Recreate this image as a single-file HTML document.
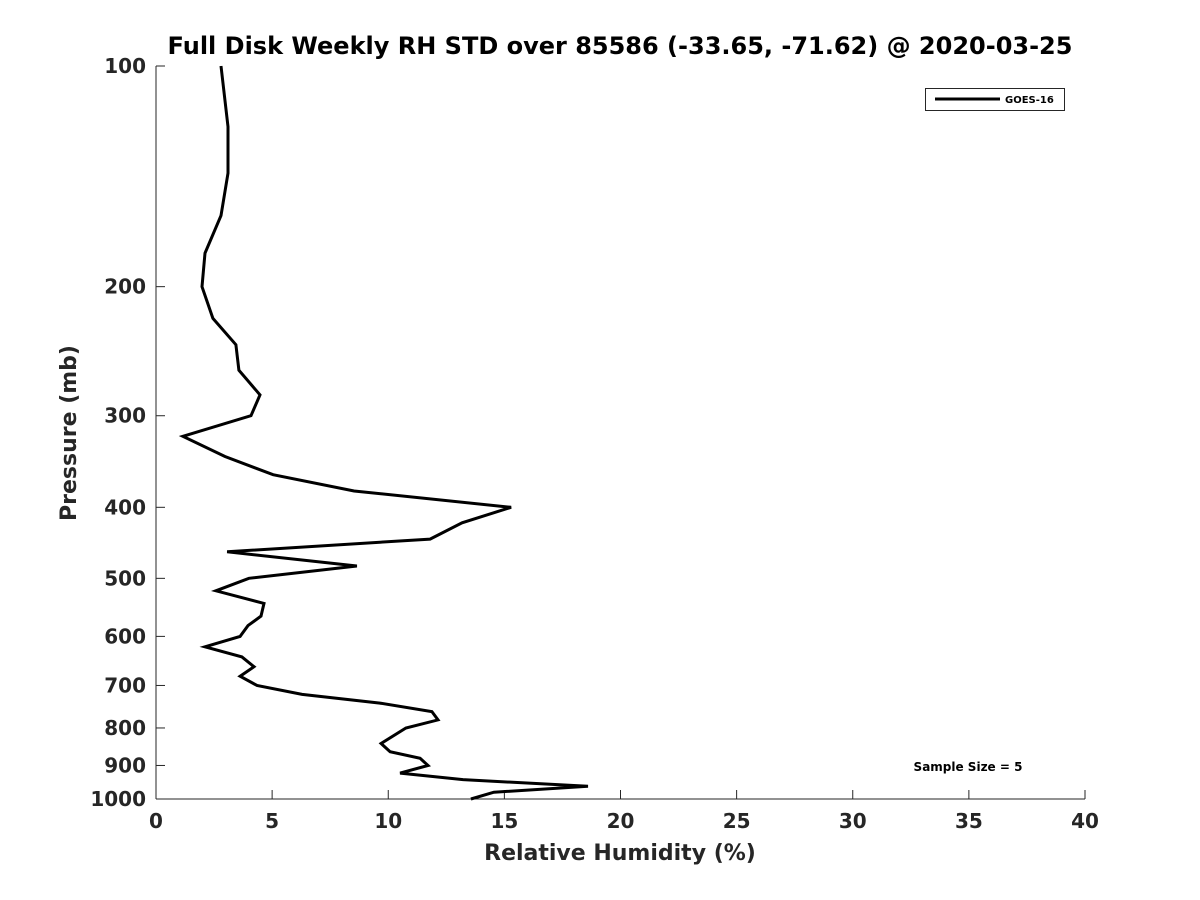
<!DOCTYPE html>
<html><head><meta charset="utf-8"><style>body{margin:0;background:#fff}svg{display:block;font-family:"DejaVu Sans","Liberation Sans",sans-serif}</style></head>
<body>
<svg width="1200" height="900" xmlns="http://www.w3.org/2000/svg">
<g id="root"></g>
</svg>
<script>
const pressures=[100,121,140,160,180,200,221,240,260,281,300,320,341,361,380,400,420,442,460,481,500,520,541,563,580,600,620,640,660,680,700,720,740,760,780,800,840,862,880,900,922,941,961,979,1000];
const rhValues=[2.80,3.10,3.10,2.80,2.11,1.98,2.45,3.44,3.57,4.48,4.09,1.16,2.97,5.04,8.53,15.29,13.18,11.80,3.06,8.65,4.00,2.58,4.65,4.52,3.96,3.62,2.11,3.70,4.22,3.62,4.35,6.29,9.64,11.88,12.14,10.76,9.69,10.08,11.37,11.71,10.51,13.22,18.60,14.55,13.56];
const xTicks=[0,5,10,15,20,25,30,35,40];
const yTicks=[100,200,300,400,500,600,700,800,900,1000];
const L=156,R=1085,T=66,B=799;
const xs=v=>L+(v-0)/40*(R-L);
const ys=p=>T+Math.log10(p/100)*(B-T);
const NS="http://www.w3.org/2000/svg",root=document.getElementById('root');
function mk(t,a,txt){const e=document.createElementNS(NS,t);for(const k in a)e.setAttribute(k,a[k]);if(txt!==undefined)e.textContent=txt;root.appendChild(e);return e;}
let e;
e=mk('line',{x1:L,y1:T,x2:L,y2:B,stroke:'#262626','stroke-width':1});

e=mk('line',{x1:L,y1:B,x2:R,y2:B,stroke:'#262626','stroke-width':1});

xTicks.forEach(v=>{const x=xs(v);
e=mk('line',{x1:x,y1:B,x2:x,y2:B-9,stroke:'#262626'});

e=mk('text',{x:x,y:B+29,'text-anchor':'middle','font-size':20,'font-weight':'bold',fill:'#262626'},String(v));
});
yTicks.forEach(p=>{const y=ys(p);
e=mk('line',{x1:L,y1:y,x2:L+9,y2:y,stroke:'#262626'});

e=mk('text',{x:L-10,y:y+7,'text-anchor':'end','font-size':20,'font-weight':'bold',fill:'#262626'},String(p));
});
const pts=pressures.map((p,i)=>xs(rhValues[i]).toFixed(1)+','+ys(p).toFixed(1)).join(' ');
e=mk('polyline',{points:pts,fill:'none',stroke:'#000','stroke-width':3,'stroke-linejoin':'miter'});

e=mk('text',{x:620,y:54,'text-anchor':'middle','font-size':24,'font-weight':'bold',fill:'#000'},'Full Disk Weekly RH STD over 85586 (-33.65, -71.62) @ 2020-03-25');

e=mk('text',{x:620,y:860,'text-anchor':'middle','font-size':22,'font-weight':'bold',fill:'#262626'},'Relative Humidity (%)');

e=mk('text',{x:76,y:433,'text-anchor':'middle','font-size':22,'font-weight':'bold',fill:'#262626',transform:'rotate(-90 76 433)'},'Pressure (mb)');

e=mk('rect',{x:925.5,y:88.5,width:139,height:22,fill:'#fff',stroke:'#262626'});

e=mk('line',{x1:935,y1:99,x2:1000,y2:99,stroke:'#000','stroke-width':3});

e=mk('text',{x:1005,y:103,'font-size':10,'font-weight':'bold',fill:'#000'},'GOES-16');

e=mk('text',{x:968,y:771,'text-anchor':'middle','font-size':12,'font-weight':'bold',fill:'#000'},'Sample Size = 5');

</script>
</body></html>
